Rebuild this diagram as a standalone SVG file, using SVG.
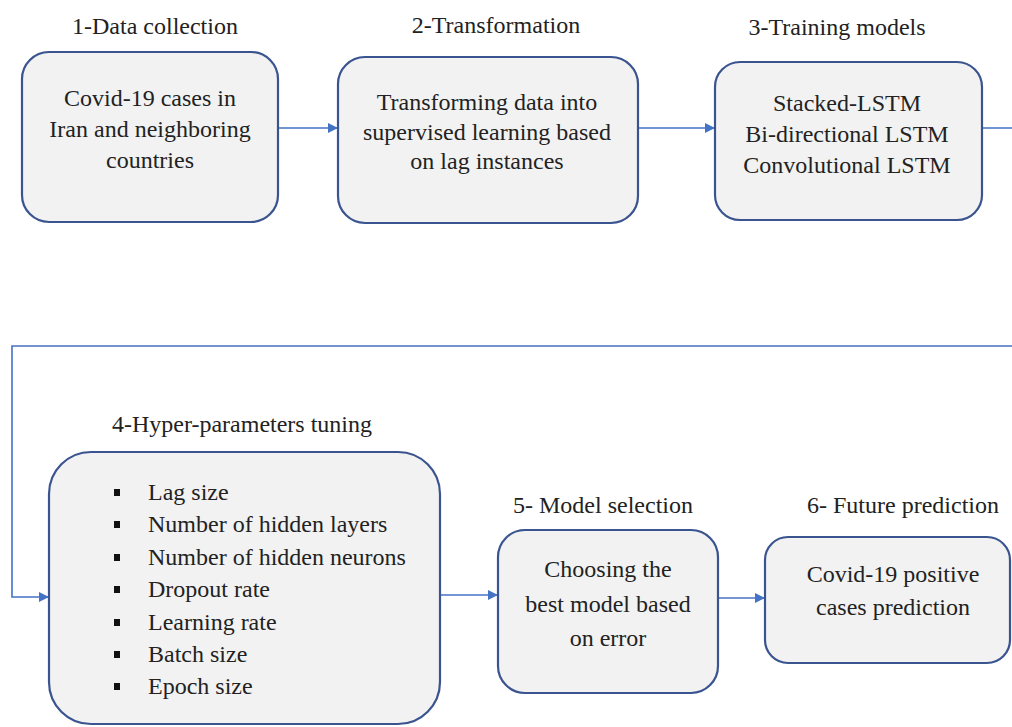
<svg xmlns="http://www.w3.org/2000/svg" width="1012" height="727" viewBox="0 0 1012 727" font-family="Liberation Serif, serif">
<style>
.box{fill:#F2F2F2;stroke:#3A5490;stroke-width:2.2}
text{font-family:Liberation Serif, serif}
.t{font-size:24px;fill:#222;text-anchor:middle}
.l{font-size:24px;fill:#222}
.c{fill:none;stroke:#4472C4;stroke-width:1.6}
.b{fill:#111}
</style>
<defs>
<marker id="ah" viewBox="0 0 10 10" refX="9" refY="5" markerWidth="10" markerHeight="10" markerUnits="userSpaceOnUse" orient="auto">
<path d="M0,0 L10,5 L0,10 z" fill="#4472C4"/>
</marker>
</defs>
<rect width="1012" height="727" fill="#fff"/>
<g id="connectors">
<path class="c" d="M278,128 H337" marker-end="url(#ah)"/>
<path class="c" d="M638,128 H714" marker-end="url(#ah)"/>
<path class="c" d="M982,128 H1016 V346 H12 V597 H48" marker-end="url(#ah)"/>
<path class="c" d="M440,595 H497" marker-end="url(#ah)"/>
<path class="c" d="M718,598 H764" marker-end="url(#ah)"/>
</g>
<g id="node1">
<text class="t" x="155" y="34" font-family="Liberation Serif">1-Data collection</text>
<rect class="box" x="22" y="52" width="256" height="170" rx="27"/>
<text class="t" x="150" y="106">Covid-19 cases in</text>
<text class="t" x="150" y="137">Iran and neighboring</text>
<text class="t" x="150" y="168">countries</text>
</g>
<g id="node2">
<text class="t" x="496" y="33">2-Transformation</text>
<rect class="box" x="338" y="57" width="300" height="166" rx="27"/>
<text class="t" x="487" y="110">Transforming data into</text>
<text class="t" x="487" y="140">supervised learning based</text>
<text class="t" x="487" y="169">on lag instances</text>
</g>
<g id="node3">
<text class="t" x="837" y="35">3-Training models</text>
<rect class="box" x="715" y="62" width="267" height="158" rx="25"/>
<text class="t" x="847" y="111">Stacked-LSTM</text>
<text class="t" x="847" y="142">Bi-directional LSTM</text>
<text class="t" x="847" y="173">Convolutional LSTM</text>
</g>
<g id="node4">
<text class="t" x="242" y="432">4-Hyper-parameters tuning</text>
<rect class="box" x="49" y="452" width="391" height="272" rx="42"/>
<rect class="b" x="114" y="489" width="6" height="7"/>
<text class="l" x="148" y="500">Lag size</text>
<rect class="b" x="114" y="521" width="6" height="7"/>
<text class="l" x="148" y="532">Number of hidden layers</text>
<rect class="b" x="114" y="554" width="6" height="7"/>
<text class="l" x="148" y="565">Number of hidden neurons</text>
<rect class="b" x="114" y="586" width="6" height="7"/>
<text class="l" x="148" y="597">Dropout rate</text>
<rect class="b" x="114" y="619" width="6" height="7"/>
<text class="l" x="148" y="630">Learning rate</text>
<rect class="b" x="114" y="651" width="6" height="7"/>
<text class="l" x="148" y="662">Batch size</text>
<rect class="b" x="114" y="683" width="6" height="7"/>
<text class="l" x="148" y="694">Epoch size</text>
</g>
<g id="node5">
<text class="t" x="603" y="513">5- Model selection</text>
<rect class="box" x="498" y="530" width="220" height="163" rx="27"/>
<text class="t" x="608" y="577">Choosing the</text>
<text class="t" x="608" y="612">best model based</text>
<text class="t" x="608" y="646">on error</text>
</g>
<g id="node6">
<text class="t" x="903" y="513">6- Future prediction</text>
<rect class="box" x="765" y="537" width="245" height="126" rx="23"/>
<text class="t" x="893" y="582">Covid-19 positive</text>
<text class="t" x="893" y="615">cases prediction</text>
</g>
</svg>
